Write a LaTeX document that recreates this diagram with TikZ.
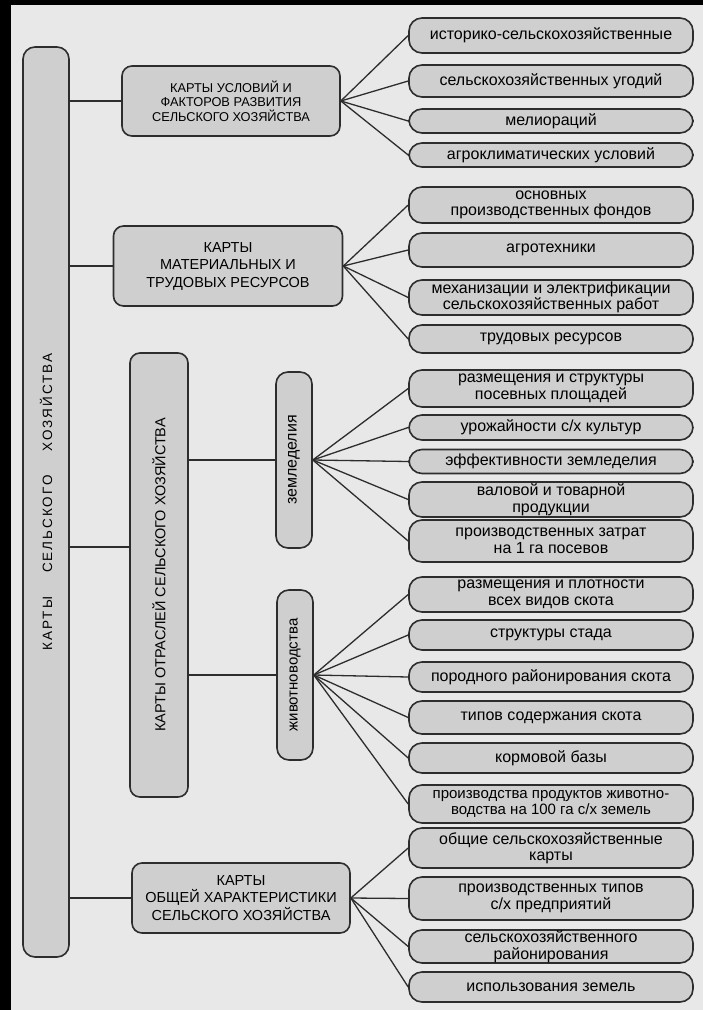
\documentclass[tikz,border=0pt]{standalone}
\usepackage{fontspec}
\setmainfont{Liberation Sans}
\definecolor{pagebg}{RGB}{232,232,232}
\definecolor{boxfill}{RGB}{207,207,207}
\definecolor{inkline}{RGB}{45,45,45}
\tikzset{mydraw/.style={inkline,line width=1.3pt}}
\tikzset{mybox/.style={draw=inkline,line width=1.6pt,fill=boxfill,rounded corners=10pt,inner sep=0pt,align=center}}
\tikzset{myleaf/.style={mybox,rounded corners=13pt,minimum width=284pt,font=\fontsize{16}{16.5}\selectfont}}
\tikzset{mycaps/.style={mybox,font=\fontsize{14.5}{17.5}\selectfont}}

\begin{document}
\begin{tikzpicture}[x=1pt,y=-1pt]
	\fill[pagebg] (0,0) rectangle (703,1010);
	\fill[black] (0,0) rectangle (11,1010);
	\fill[black] (0,0) rectangle (703,5);
	\useasboundingbox (0,0) rectangle (703,1010);

	% main column
	\node[mybox,rounded corners=12pt,minimum width=46pt,minimum height=910pt] (main) at (46,502) {\rotatebox{90}{\fontsize{13.5}{13.5}\selectfont\addfontfeature{LetterSpace=15}КАРТЫ\hspace{24pt}СЕЛЬСКОГО\hspace{24pt}ХОЗЯЙСТВА}};

	% second level
	\node[mycaps,font=\fontsize{12.8}{14.5}\selectfont,minimum width=218pt,minimum height=70pt] (usl) at (231,101) {КАРТЫ УСЛОВИЙ И\\ФАКТОРОВ РАЗВИТИЯ\\СЕЛЬСКОГО ХОЗЯЙСТВА};
	\node[mycaps,minimum width=229pt,minimum height=80pt] (mat) at (228,266) {КАРТЫ\\МАТЕРИАЛЬНЫХ И\\ТРУДОВЫХ РЕСУРСОВ};
	\node[mybox,minimum width=58pt,minimum height=444pt] (otr) at (159,575) {\rotatebox{90}{\fontsize{14.5}{14.5}\selectfont КАРТЫ ОТРАСЛЕЙ СЕЛЬСКОГО ХОЗЯЙСТВА}};
	\node[mycaps,minimum width=218pt,minimum height=70pt] (obsh) at (241,898) {КАРТЫ\\ОБЩЕЙ ХАРАКТЕРИСТИКИ\\СЕЛЬСКОГО ХОЗЯЙСТВА};

	% branches
	\node[mybox,rounded corners=12pt,minimum width=36pt,minimum height=176pt] (zeml) at (294,460) {\rotatebox{90}{\fontsize{16}{16}\selectfont земледелия}};
	\node[mybox,rounded corners=12pt,minimum width=36pt,minimum height=170pt] (zhiv) at (295,675) {\rotatebox{90}{\fontsize{15}{15}\selectfont животноводства}};

	% leaves
	\node[myleaf,minimum height=35pt] (hist) at (551,35.5) {историко-сельскохозяйственные};
	\node[myleaf,minimum height=32pt] (ugod) at (551,81) {сельскохозяйственных угодий};
	\node[myleaf,minimum height=24pt] (melio) at (551,121) {мелиораций};
	\node[myleaf,minimum height=24pt] (agrocl) at (551,155) {агроклиматических условий};
	\node[myleaf,minimum height=36pt] (fond) at (551,205) {основных\\производственных фондов};
	\node[myleaf,minimum height=34pt] (agrot) at (551,250) {агротехники};
	\node[myleaf,minimum height=35pt] (mech) at (551,297.5) {механизации и электрификации\\сельскохозяйственных работ};
	\node[myleaf,minimum height=28pt] (trud) at (551,339) {трудовых ресурсов};
	\node[myleaf,minimum height=37pt] (pos) at (551,388.5) {размещения и структуры\\посевных площадей};
	\node[myleaf,minimum height=25pt] (uroz) at (551,427.5) {урожайности с/х культур};
	\node[myleaf,minimum height=24pt] (eff) at (551,461.5) {эффективности земледелия};
	\node[myleaf,minimum height=35pt] (val) at (551,499.5) {валовой и товарной\\продукции};
	\node[myleaf,minimum height=42pt] (zatr) at (551,541) {производственных затрат\\на 1 га посевов};
	\node[myleaf,minimum height=35pt] (plot) at (551,594.5) {размещения и плотности\\всех видов скота};
	\node[myleaf,minimum height=30pt] (stado) at (551,635) {структуры стада};
	\node[myleaf,minimum height=30pt] (porod) at (551,677) {породного районирования скота};
	\node[myleaf,minimum height=33pt] (sod) at (551,717.5) {типов содержания скота};
	\node[myleaf,minimum height=30pt] (korm) at (551,758) {кормовой базы};
	\node[myleaf,minimum height=38pt,font=\fontsize{15}{16.5}\selectfont] (prodzh) at (551,804) {производства продуктов животно-\\водства на 100 га с/х земель};
	\node[myleaf,minimum height=40pt] (obshk) at (551,848) {общие сельскохозяйственные\\карты};
	\node[myleaf,minimum height=43pt] (tip) at (551,898.5) {производственных типов\\с/х предприятий};
	\node[myleaf,minimum height=33pt] (raion) at (551,946.5) {сельскохозяйственного\\районирования};
	\node[myleaf,minimum height=30pt] (isp) at (551,987) {использования земель};

	% links from the main column
	\coordinate (otrin) at ([yshift=28pt]otr.west);
	\draw[mydraw] (main.east |- usl.west) -- (usl.west);
	\draw[mydraw] (main.east |- mat.west) -- (mat.west);
	\draw[mydraw] (main.east |- otrin) -- (otrin);
	\draw[mydraw] (main.east |- obsh.west) -- (obsh.west);
	\draw[mydraw] (otr.east |- zeml.west) -- (zeml.west);
	\draw[mydraw] (otr.east |- zhiv.west) -- (zhiv.west);

	% fans to the leaves
	\foreach \l in {hist,ugod,melio,agrocl} \draw[mydraw] (usl.east) -- (\l.west);
	\foreach \l in {fond,agrot,mech,trud} \draw[mydraw] (mat.east) -- (\l.west);
	\foreach \l in {pos,uroz,eff,val,zatr} \draw[mydraw] (zeml.east) -- (\l.west);
	\foreach \l in {plot,stado,porod,sod,korm,prodzh} \draw[mydraw] (zhiv.east) -- (\l.west);
	\foreach \l in {obshk,tip,raion,isp} \draw[mydraw] (obsh.east) -- (\l.west);
\end{tikzpicture}
\end{document}
